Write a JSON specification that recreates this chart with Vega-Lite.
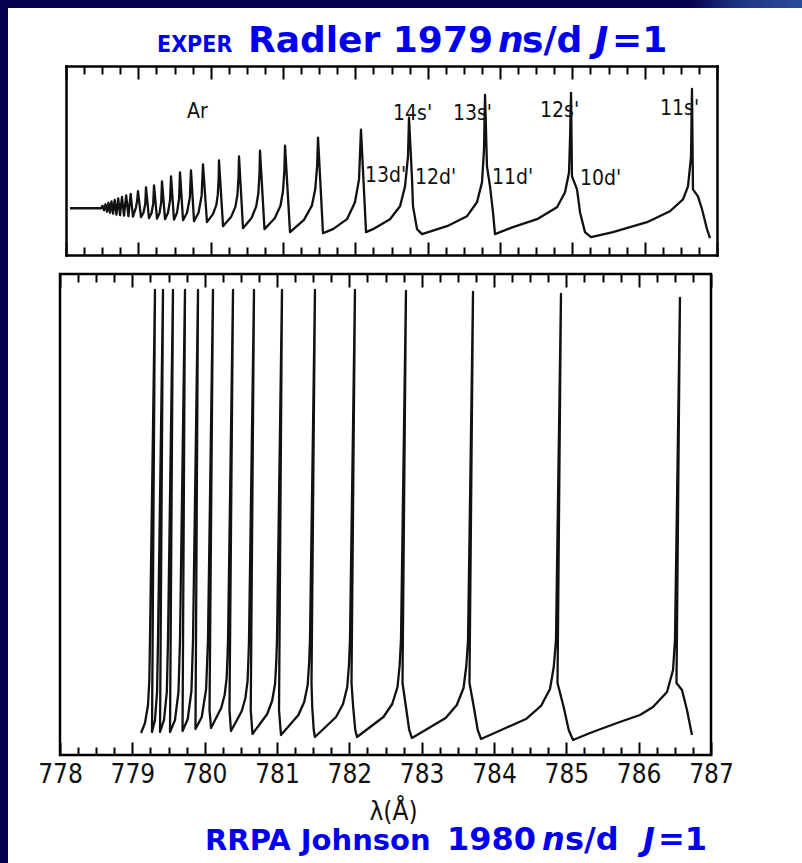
{
  "$schema": "https://vega.github.io/schema/vega-lite/v6.json",
  "background": "white",
  "padding": 0,
  "spacing": 0,
  "config": {
    "view": {"stroke": "#000000", "strokeWidth": 2.5},
    "axis": {"domain": false, "grid": false, "tickColor": "#000000", "tickWidth": 2, "domainColor": "#000000", "domainWidth": 2.5, "domainCap": "square"}
  },
  "datasets": {
    "top": [
      {"x":778.055,"y":24.74},{"x":778.484,"y":24.74},{"x":778.505,"y":26.05},{"x":778.525,"y":23.68},{"x":778.546,"y":26.84},{"x":778.567,"y":22.89},{"x":778.588,"y":27.63},{"x":778.608,"y":22.37},{"x":778.629,"y":28.42},{"x":778.650,"y":21.84},{"x":778.673,"y":29.21},{"x":778.697,"y":21.32},{"x":778.722,"y":30.00},{"x":778.747,"y":21.05},{"x":778.774,"y":30.79},{"x":778.802,"y":20.79},{"x":778.832,"y":31.58},{"x":778.863,"y":20.53},{"x":778.894,"y":32.37},{"x":778.926,"y":20.26},{"x":778.968,"y":25.26},{"x":778.986,"y":29.47},{"x":778.995,"y":33.84},
      {"x":779.037,"y":20.00},{"x":779.071,"y":22.37},{"x":779.096,"y":27.11},{"x":779.106,"y":35.79},
      {"x":779.147,"y":19.47},{"x":779.182,"y":22.08},{"x":779.206,"y":27.29},{"x":779.217,"y":36.84},
      {"x":779.258,"y":19.21},{"x":779.293,"y":22.16},{"x":779.317,"y":28.11},{"x":779.327,"y":38.95},
      {"x":779.369,"y":18.95},{"x":779.410,"y":22.34},{"x":779.439,"y":29.13},{"x":779.452,"y":41.58},
      {"x":779.493,"y":18.68},{"x":779.535,"y":22.42},{"x":779.564,"y":29.95},{"x":779.576,"y":43.68},
      {"x":779.618,"y":18.42},{"x":779.673,"y":22.37},{"x":779.712,"y":30.26},{"x":779.728,"y":44.74},
      {"x":779.770,"y":17.89},{"x":779.832,"y":22.39},{"x":779.875,"y":31.39},{"x":779.894,"y":47.89},
      {"x":779.949,"y":17.37},{"x":780.032,"y":21.61},{"x":780.079,"y":26.51},{"x":780.099,"y":32.05},{"x":780.110,"y":40.21},{"x":780.115,"y":50.00},
      {"x":780.171,"y":15.26},{"x":780.281,"y":20.05},{"x":780.343,"y":25.58},{"x":780.370,"y":31.84},{"x":780.385,"y":41.05},{"x":780.392,"y":52.11},
      {"x":780.447,"y":14.21},{"x":780.565,"y":19.55},{"x":780.630,"y":25.71},{"x":780.659,"y":32.68},{"x":780.675,"y":42.95},{"x":780.682,"y":55.26},
      {"x":780.744,"y":13.68},{"x":780.886,"y":19.43},{"x":780.965,"y":26.06},{"x":780.999,"y":33.58},{"x":781.019,"y":44.63},{"x":781.028,"y":57.89},
      {"x":781.097,"y":12.11},{"x":781.290,"y":18.61},{"x":781.399,"y":26.11},{"x":781.445,"y":34.61},{"x":781.472,"y":47.11},{"x":781.484,"y":62.11},
      {"x":781.553,"y":11.58},{"x":781.691,"y":13.68},{"x":781.885,"y":18.95},{"x":781.995,"y":27.89},{"x":782.051,"y":40.00},{"x":782.078,"y":66.32},
      {"x":782.148,"y":12.11},{"x":782.244,"y":13.68},{"x":782.479,"y":18.95},{"x":782.618,"y":25.79},{"x":782.687,"y":36.32},{"x":782.728,"y":52.11},{"x":782.742,"y":72.63},
      {"x":782.784,"y":40.00},{"x":782.797,"y":25.79},{"x":782.853,"y":13.68},{"x":782.922,"y":11.05},{"x":783.267,"y":15.26},{"x":783.544,"y":20.53},{"x":783.682,"y":27.89},{"x":783.751,"y":38.42},{"x":783.779,"y":55.79},{"x":783.793,"y":84.74},
      {"x":783.820,"y":46.84},{"x":783.862,"y":36.32},{"x":783.903,"y":22.63},{"x":783.931,"y":11.05},{"x":784.180,"y":14.74},{"x":784.512,"y":18.95},{"x":784.788,"y":25.26},{"x":784.899,"y":33.16},{"x":784.954,"y":43.68},{"x":784.968,"y":61.05},{"x":784.982,"y":85.79},
      {"x":784.995,"y":41.58},{"x":785.065,"y":34.74},{"x":785.106,"y":22.63},{"x":785.175,"y":12.11},{"x":785.258,"y":9.47},{"x":785.562,"y":12.11},{"x":786.032,"y":17.37},{"x":786.350,"y":23.16},{"x":786.530,"y":29.47},{"x":786.599,"y":36.32},{"x":786.641,"y":52.11},{"x":786.654,"y":87.89},
      {"x":786.668,"y":34.74},{"x":786.737,"y":31.05},{"x":786.793,"y":24.21},{"x":786.862,"y":13.68},{"x":786.903,"y":8.95}
    ],
    "bot": [
      {"i":1,"x":779.120,"y":4.57},{"i":2,"x":779.175,"y":6.65},{"i":3,"x":779.217,"y":10.40},{"i":4,"x":779.235,"y":15.59},{"i":5,"x":779.244,"y":23.91},{"i":6,"x":779.313,"y":96.67},
      {"i":7,"x":779.272,"y":4.78},{"i":8,"x":779.313,"y":7.28},{"i":9,"x":779.342,"y":13.10},{"i":10,"x":779.355,"y":23.91},{"i":11,"x":779.424,"y":96.67},
      {"i":12,"x":779.383,"y":4.78},{"i":13,"x":779.438,"y":7.28},{"i":14,"x":779.477,"y":13.10},{"i":15,"x":779.493,"y":23.91},{"i":16,"x":779.562,"y":96.67},
      {"i":17,"x":779.521,"y":4.78},{"i":18,"x":779.590,"y":7.28},{"i":19,"x":779.638,"y":13.10},{"i":20,"x":779.659,"y":23.91},{"i":21,"x":779.728,"y":96.67},
      {"i":22,"x":779.694,"y":4.99},{"i":23,"x":779.766,"y":7.48},{"i":24,"x":779.817,"y":13.31},{"i":25,"x":779.839,"y":23.91},{"i":26,"x":779.908,"y":96.67},
      {"i":27,"x":779.873,"y":5.41},{"i":28,"x":779.960,"y":7.90},{"i":29,"x":780.020,"y":13.72},{"i":30,"x":780.046,"y":23.91},{"i":31,"x":780.115,"y":96.67},
      {"i":32,"x":780.067,"y":9.36},{"i":33,"x":780.088,"y":5.61},{"i":34,"x":780.158,"y":7.69},{"i":35,"x":780.229,"y":9.77},{"i":36,"x":780.276,"y":12.47},{"i":37,"x":780.304,"y":16.01},{"i":38,"x":780.316,"y":20.58},{"i":39,"x":780.323,"y":23.91},{"i":40,"x":780.392,"y":96.67},
      {"i":41,"x":780.343,"y":9.36},{"i":42,"x":780.364,"y":4.99},{"i":43,"x":780.439,"y":7.07},{"i":44,"x":780.513,"y":9.15},{"i":45,"x":780.563,"y":11.85},{"i":46,"x":780.593,"y":15.38},{"i":47,"x":780.605,"y":19.96},{"i":48,"x":780.613,"y":23.91},{"i":49,"x":780.682,"y":96.67},
      {"i":50,"x":780.637,"y":9.36},{"i":51,"x":780.661,"y":4.37},{"i":52,"x":780.763,"y":6.44},{"i":53,"x":780.865,"y":8.52},{"i":54,"x":780.932,"y":11.23},{"i":55,"x":780.973,"y":14.76},{"i":56,"x":780.990,"y":19.33},{"i":57,"x":781.000,"y":23.91},{"i":58,"x":781.069,"y":96.67},
      {"i":59,"x":781.028,"y":9.36},{"i":60,"x":781.055,"y":4.16},{"i":61,"x":781.176,"y":6.24},{"i":62,"x":781.296,"y":8.32},{"i":63,"x":781.376,"y":11.02},{"i":64,"x":781.424,"y":14.55},{"i":65,"x":781.444,"y":19.13},{"i":66,"x":781.456,"y":23.91},{"i":67,"x":781.525,"y":96.67},
      {"i":68,"x":781.477,"y":14.97},{"i":69,"x":781.487,"y":9.98},{"i":70,"x":781.508,"y":5.20},{"i":71,"x":781.525,"y":3.74},{"i":72,"x":781.671,"y":5.82},{"i":73,"x":781.816,"y":7.90},{"i":74,"x":781.913,"y":10.60},{"i":75,"x":781.971,"y":14.14},{"i":76,"x":781.995,"y":18.71},{"i":77,"x":782.009,"y":23.91},{"i":78,"x":782.078,"y":96.67},
      {"i":79,"x":782.030,"y":14.97},{"i":80,"x":782.053,"y":9.98},{"i":81,"x":782.082,"y":5.20},{"i":82,"x":782.106,"y":3.74},{"i":83,"x":782.289,"y":5.82},{"i":84,"x":782.471,"y":7.90},{"i":85,"x":782.593,"y":10.60},{"i":86,"x":782.666,"y":14.14},{"i":87,"x":782.696,"y":18.71},{"i":88,"x":782.714,"y":23.91},{"i":89,"x":782.783,"y":96.47},
      {"i":90,"x":782.735,"y":14.97},{"i":91,"x":782.783,"y":9.98},{"i":92,"x":782.828,"y":5.20},{"i":93,"x":782.866,"y":3.53},{"i":94,"x":783.099,"y":5.61},{"i":95,"x":783.331,"y":7.69},{"i":96,"x":783.486,"y":10.40},{"i":97,"x":783.579,"y":13.93},{"i":98,"x":783.617,"y":18.50},{"i":99,"x":783.641,"y":23.91},{"i":100,"x":783.710,"y":96.26},
      {"i":101,"x":783.661,"y":14.97},{"i":102,"x":783.721,"y":9.98},{"i":103,"x":783.775,"y":5.20},{"i":104,"x":783.820,"y":3.33},{"i":105,"x":784.131,"y":5.41},{"i":106,"x":784.442,"y":7.48},{"i":107,"x":784.650,"y":10.19},{"i":108,"x":784.774,"y":13.72},{"i":109,"x":784.826,"y":18.30},{"i":110,"x":784.857,"y":23.91},{"i":111,"x":784.926,"y":95.84},
      {"i":112,"x":784.878,"y":14.97},{"i":113,"x":784.963,"y":9.98},{"i":114,"x":785.033,"y":5.20},{"i":115,"x":785.092,"y":3.12},{"i":116,"x":785.327,"y":4.57},{"i":117,"x":785.700,"y":6.65},{"i":118,"x":786.018,"y":8.32},{"i":119,"x":786.198,"y":9.98},{"i":120,"x":786.392,"y":13.10},{"i":121,"x":786.475,"y":17.67},{"i":122,"x":786.502,"y":23.91},{"i":123,"x":786.571,"y":95.01},
      {"i":124,"x":786.523,"y":14.97},{"i":125,"x":786.599,"y":13.51},{"i":126,"x":786.668,"y":9.36},{"i":127,"x":786.737,"y":4.16}
    ],
    "labels": [
      {"t":"Ar","x":779.673,"y":72.63},
      {"t":"14s'","x":782.521,"y":71.58},
      {"t":"13s'","x":783.350,"y":71.58},
      {"t":"12s'","x":784.553,"y":73.16},
      {"t":"11s'","x":786.212,"y":74.21},
      {"t":"13d'","x":782.134,"y":38.42},
      {"t":"12d'","x":782.825,"y":37.37},
      {"t":"11d'","x":783.890,"y":37.37},
      {"t":"10d'","x":785.106,"y":36.84}
    ],
    "t1big": [
      {"t":"Radler 1979","x":780.516,"y":107.37},
      {"t":"s/d","x":784.304,"y":107.37},
      {"t":"=1","x":785.548,"y":107.37}
    ],
    "t1it": [
      {"t":"n","x":783.972,"y":107.37},
      {"t":"J","x":785.313,"y":107.37}
    ],
    "t1small": [
      {"t":"EXPER","x":779.258,"y":107.37}
    ],
    "t2big": [
      {"t":"1980","x":783.350,"y":-19.75},
      {"t":"s/d","x":784.982,"y":-19.75},
      {"t":"=1","x":786.267,"y":-19.75}
    ],
    "t2it": [
      {"t":"n","x":784.664,"y":-19.75},
      {"t":"J","x":786.060,"y":-19.75}
    ],
    "t2small": [
      {"t":"RRPA Johnson","x":780.005,"y":-19.75}
    ]
  },
  "vconcat": [
    {
      "width": 802,
      "height": 8,
      "view": {"stroke": null, "fill": {"gradient": "linear", "x1": 0, "x2": 1, "y1": 0, "y2": 0, "stops": [{"offset": 0, "color": "#060250"}, {"offset": 0.86, "color": "#060250"}, {"offset": 0.92, "color": "#1c3580"}, {"offset": 1, "color": "#2a4c9c"}]}},
      "data": {"values": []},
      "mark": "point"
    },
    {
      "spacing": 20,
      "hconcat": [
        {
          "width": 8,
          "height": 855,
          "view": {"fill": "#060250", "stroke": null},
          "data": {"values": []},
          "mark": "point"
        },
        {
          "spacing": 15,
          "vconcat": [
            {
              "width": 657,
              "height": 247,
              "view": {"stroke": null},
              "resolve": {"axis": {"x": "independent", "y": "independent"}},
              "layer": [
                {
                  "data": {"name": "top"},
                  "mark": {"type": "line", "color": "#111111", "strokeWidth": 2.3, "strokeJoin": "round"},
                  "encoding": {
                    "x": {"field": "x", "type": "quantitative", "scale": {"domain": [778, 787], "range": [6, 657], "nice": false, "zero": false},
                          "axis": {"orient": "bottom", "domain": true, "values": [778,778.25,778.5,778.75,779,779.25,779.5,779.75,780,780.25,780.5,780.75,781,781.25,781.5,781.75,782,782.25,782.5,782.75,783,783.25,783.5,783.75,784,784.25,784.5,784.75,785,785.25,785.5,785.75,786,786.25,786.5,786.75,787],
                                   "tickSize": {"condition": {"test": "datum.value % 1 === 0", "value": -13}, "value": -8}, "labels": false, "title": null}},
                    "y": {"field": "y", "type": "quantitative", "scale": {"domain": [0, 100], "range": [247, 58], "nice": false, "zero": false},
                          "axis": {"orient": "left", "domain": true, "offset": -6, "ticks": false, "labels": false, "title": null, "minExtent": 0}}
                  }
                },
                {
                  "data": {"name": "labels"},
                  "mark": {"type": "text", "align": "left", "baseline": "alphabetic", "font": "DejaVu Sans Condensed", "fontSize": 21, "color": "#111111", "clip": false},
                  "encoding": {
                    "x": {"field": "x", "type": "quantitative",
                          "axis": {"orient": "top", "domain": true, "offset": -58, "values": [778,778.25,778.5,778.75,779,779.25,779.5,779.75,780,780.25,780.5,780.75,781,781.25,781.5,781.75,782,782.25,782.5,782.75,783,783.25,783.5,783.75,784,784.25,784.5,784.75,785,785.25,785.5,785.75,786,786.25,786.5,786.75,787],
                                   "tickSize": {"condition": {"test": "datum.value % 1 === 0", "value": -13}, "value": -8}, "labels": false, "title": null}},
                    "y": {"field": "y", "type": "quantitative", "axis": {"orient": "right", "domain": true, "ticks": false, "labels": false, "title": null, "minExtent": 0}},
                    "text": {"field": "t"}
                  }
                },
                {
                  "data": {"name": "t1big"},
                  "mark": {"type": "text", "align": "left", "baseline": "alphabetic", "font": "DejaVu Sans", "fontWeight": "bold", "fontSize": 36, "color": "#0000ee", "clip": false},
                  "encoding": {
                    "x": {"field": "x", "type": "quantitative", "axis": null},
                    "y": {"field": "y", "type": "quantitative", "axis": null},
                    "text": {"field": "t"}
                  }
                },
                {
                  "data": {"name": "t1it"},
                  "mark": {"type": "text", "align": "left", "baseline": "alphabetic", "font": "DejaVu Sans", "fontWeight": "bold", "fontStyle": "italic", "fontSize": 36, "color": "#0000ee", "clip": false},
                  "encoding": {
                    "x": {"field": "x", "type": "quantitative", "axis": null},
                    "y": {"field": "y", "type": "quantitative", "axis": null},
                    "text": {"field": "t"}
                  }
                },
                {
                  "data": {"name": "t1small"},
                  "mark": {"type": "text", "align": "left", "baseline": "alphabetic", "font": "DejaVu Sans Condensed", "fontWeight": "bold", "fontSize": 23, "color": "#0000ee", "clip": false},
                  "encoding": {
                    "x": {"field": "x", "type": "quantitative", "axis": null},
                    "y": {"field": "y", "type": "quantitative", "axis": null},
                    "text": {"field": "t"}
                  }
                }
              ]
            },
            {
              "width": 651,
              "height": 481,
              "resolve": {"axis": {"x": "independent", "y": "independent"}},
              "layer": [
                {
                  "data": {"name": "bot"},
                  "mark": {"type": "line", "color": "#111111", "strokeWidth": 2.3, "strokeJoin": "round"},
                  "encoding": {
                    "x": {"field": "x", "type": "quantitative", "scale": {"domain": [778, 787], "nice": false, "zero": false},
                          "axis": {"orient": "bottom", "values": [778,778.25,778.5,778.75,779,779.25,779.5,779.75,780,780.25,780.5,780.75,781,781.25,781.5,781.75,782,782.25,782.5,782.75,783,783.25,783.5,783.75,784,784.25,784.5,784.75,785,785.25,785.5,785.75,786,786.25,786.5,786.75,787],
                                   "tickSize": {"condition": {"test": "datum.value % 1 === 0", "value": -13}, "value": -8},
                                   "labels": true, "labelExpr": "datum.value % 1 === 0 ? format(datum.value, 'd') : ''", "labelPadding": 19, "labelFont": "DejaVu Sans Condensed", "labelFontSize": 26, "labelColor": "#111111", "labelFlush": false, "labelOverlap": false,
                                   "title": "λ(Å)", "titleFont": "DejaVu Sans Condensed", "titleFontSize": 26, "titleFontWeight": "normal", "titleColor": "#111111", "titlePadding": 6, "titleX": 333}},
                    "y": {"field": "y", "type": "quantitative", "scale": {"domain": [0, 100], "nice": false, "zero": false},
                          "axis": {"orient": "left", "values": [50], "tickSize": 30, "tickOpacity": 0, "labels": false, "title": null}},
                    "order": {"field": "i", "type": "quantitative"}
                  }
                },
                {
                  "data": {"name": "t2big"},
                  "mark": {"type": "text", "align": "left", "baseline": "alphabetic", "font": "DejaVu Sans", "fontWeight": "bold", "fontSize": 32, "color": "#0000ee", "clip": false},
                  "encoding": {
                    "x": {"field": "x", "type": "quantitative",
                          "axis": {"orient": "top", "values": [778,778.25,778.5,778.75,779,779.25,779.5,779.75,780,780.25,780.5,780.75,781,781.25,781.5,781.75,782,782.25,782.5,782.75,783,783.25,783.5,783.75,784,784.25,784.5,784.75,785,785.25,785.5,785.75,786,786.25,786.5,786.75,787],
                                   "tickSize": {"condition": {"test": "datum.value % 1 === 0", "value": -13}, "value": -8}, "labels": false, "title": null}},
                    "y": {"field": "y", "type": "quantitative", "axis": null},
                    "text": {"field": "t"}
                  }
                },
                {
                  "data": {"name": "t2it"},
                  "mark": {"type": "text", "align": "left", "baseline": "alphabetic", "font": "DejaVu Sans", "fontWeight": "bold", "fontStyle": "italic", "fontSize": 32, "color": "#0000ee", "clip": false},
                  "encoding": {
                    "x": {"field": "x", "type": "quantitative", "axis": null},
                    "y": {"field": "y", "type": "quantitative", "axis": null},
                    "text": {"field": "t"}
                  }
                },
                {
                  "data": {"name": "t2small"},
                  "mark": {"type": "text", "align": "left", "baseline": "alphabetic", "font": "DejaVu Sans", "fontWeight": "bold", "fontSize": 29, "color": "#0000ee", "clip": false},
                  "encoding": {
                    "x": {"field": "x", "type": "quantitative", "axis": null},
                    "y": {"field": "y", "type": "quantitative", "axis": null},
                    "text": {"field": "t"}
                  }
                }
              ]
            }
          ]
        }
      ]
    }
  ]
}
